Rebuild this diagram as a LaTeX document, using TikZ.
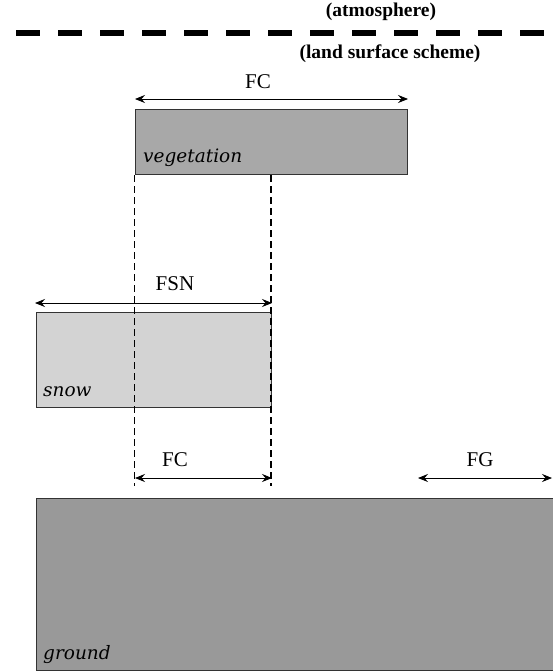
\documentclass[tikz,border=0pt]{standalone}
\usepackage{fontspec}
\setmainfont{Liberation Serif}
\newfontfamily\labfont{DejaVu Serif}
\usetikzlibrary{arrows.meta}
\definecolor{veg}{HTML}{A8A8A8}
\definecolor{snowc}{HTML}{D3D3D3}
\definecolor{grd}{HTML}{999999}
\tikzset{
  layer/.style={draw=black!80, line width=0.8pt, anchor=north west, inner sep=0pt},
  lab/.style={font=\labfont\itshape\fontsize{18.5}{20}\selectfont, anchor=base west, inner sep=0pt},
  dim/.style={line width=0.8pt, {Stealth[length=10pt,width=8pt,inset=3.5pt]}-{Stealth[length=10pt,width=8pt,inset=3.5pt]}},
  dimlab/.style={font=\fontsize{21}{23}\selectfont, inner sep=0pt},
  head/.style={font=\bfseries\fontsize{19.5}{22}\selectfont, inner sep=0pt},
}
\begin{document}
\begin{tikzpicture}[x=1pt,y=-1pt]
\useasboundingbox (0,0) rectangle (552,672);
% atmosphere boundary
\coordinate (bl) at (16,33);
\coordinate (br) at (552,33);
\draw[line width=6pt, dash pattern=on 24pt off 18pt] (bl) -- (br);
\node[head] (atm) at (381,12) {(atmosphere)};
\node[head] (lss) at (390,54) {(land surface scheme)};
% boxes
\node[layer, fill=veg, minimum width=272pt, minimum height=65pt] (veg) at (135,109) {};
\node[layer, fill=snowc, minimum width=235pt, minimum height=95pt] (snow) at (36,312) {};
\node[layer, fill=grd, minimum width=520pt, minimum height=172pt] (gr) at (36,498) {};
\node[lab] (vegl) at (143,162) {vegetation};
\node[lab] (snowl) at (43,396) {snow};
\node[lab] (grl) at (43,659) {ground};
% dashed verticals
\coordinate (vl1) at (134,175);
\coordinate (vl2) at (134,486);
\coordinate (vr1) at (271,175);
\coordinate (vr2) at (271,486);
\draw[line width=0.7pt, dash pattern=on 7pt off 4pt] (vl1) -- (vl2);
\draw[line width=1.5pt, dash pattern=on 7pt off 4pt] (vr1) -- (vr2);
% dimension arrows
\coordinate (fc1a) at (135,99);
\coordinate (fc1b) at (408,99);
\draw[dim] (fc1a) -- (fc1b);
\node[dimlab] (fc1) at (258,82) {FC};
\coordinate (fsna) at (35,303);
\coordinate (fsnb) at (272,303);
\draw[dim] (fsna) -- (fsnb);
\node[dimlab] (fsn) at (175,284) {FSN};
\coordinate (fc2a) at (135,478);
\coordinate (fc2b) at (272,478);
\draw[dim] (fc2a) -- (fc2b);
\node[dimlab] (fc2) at (175,460) {FC};
\coordinate (fga) at (418,478);
\coordinate (fgb) at (552,478);
\draw[dim] (fga) -- (fgb);
\node[dimlab] (fg) at (480,460) {FG};
\end{tikzpicture}
\end{document}
